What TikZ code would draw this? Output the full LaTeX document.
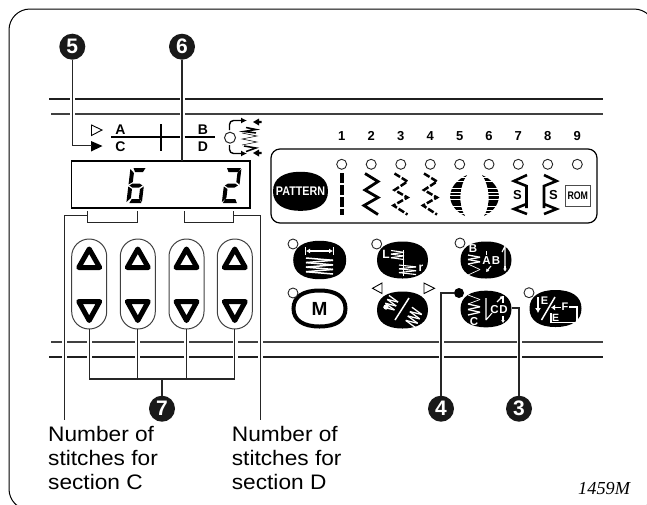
\documentclass[tikz,border=0pt]{standalone}
\usepackage{fontspec}
\setmainfont{Liberation Sans}
\newfontfamily\serifit{Liberation Serif}[ItalicFont=* Italic]
\newfontfamily\labfont{Liberation Sans}[FakeStretch=1.08]
\usetikzlibrary{arrows.meta,calc}
\newcommand{\fz}[1]{\fontsize{#1}{#1}\selectfont}
% superellipse blob: style, cx, cy, rx, ry
\newcommand{\blobpath}[5][]{\path[#1]
 ({#2-#4},{#3}) .. controls ({#2-#4},{#3-.66*#5}) and ({#2-.62*#4},{#3-#5}) .. ({#2},{#3-#5})
 .. controls ({#2+.62*#4},{#3-#5}) and ({#2+#4},{#3-.66*#5}) .. ({#2+#4},{#3})
 .. controls ({#2+#4},{#3+.66*#5}) and ({#2+.62*#4},{#3+#5}) .. ({#2},{#3+#5})
 .. controls ({#2-.62*#4},{#3+#5}) and ({#2-#4},{#3+.66*#5}) .. cycle;}
% zigzag: style, x0, x1, y0, y1, n
\newcommand{\zigzag}[6][]{\foreach \ii in {1,...,#6}{
 \pgfmathsetmacro{\xa}{mod(\ii,2)==1?#2:#3}
 \pgfmathsetmacro{\xb}{mod(\ii,2)==1?#3:#2}
 \pgfmathsetmacro{\ya}{#4+(\ii-1)*(#5-#4)/#6}
 \pgfmathsetmacro{\yb}{#4+\ii*(#5-#4)/#6}
 \draw[#1] (\xa,\ya) -- (\xb,\yb);}}
\tikzset{
 thickrule/.style={line width=2.6pt,draw=black!88},
 thinrule/.style={line width=1.3pt,draw=black!75},
 halo/.style={draw=white,line width=5pt},
 leader/.style={line width=1.1pt,draw=black!85},
 badge/.style={circle,fill=black!90,text=white,inner sep=0,minimum size=26pt,font=\fz{21}\bfseries},
 led/.style={circle,draw=black!85,fill=white,line width=.9pt,minimum size=10pt,inner sep=0},
 pill/.style={draw=black!75,line width=1pt,rounded corners=17.4pt},
 tri/.style={draw=black,fill=white,line width=5pt,line join=round},
 num/.style={font=\fz{13}\bfseries,inner sep=0},
 wtxt/.style={text=white,inner sep=0},
 wl/.style={draw=white,line width=1.1pt},
 sl/.style={draw=black,line width=3pt},
 lab/.style={anchor=base west,inner sep=0,font=\labfont\fz{21}},
}
\begin{document}
\begin{tikzpicture}[x=1pt,y=-1pt]
\useasboundingbox (0,0) rectangle (647,504);
\begin{scope}
\clip (0,0) rectangle (647,504);
\draw[line width=1pt,rounded corners=21pt] (9,9) rectangle (655,510);
\end{scope}
% rules
\draw[thickrule] (49,99) -- (603,99);
\draw[thinrule] (51,114) -- (603,114);
\draw[thinrule] (51,342) -- (603,342);
\draw[thickrule] (49,357) -- (603,357);
% halos in rules
\foreach \x in {72.3,182}{\draw[halo] (\x,94) -- (\x,119);}
\foreach \x in {64.7,89,137.8,186.5,235,260.3,441,519}{\draw[halo] (\x,337) -- (\x,362);}
% badges
\node[badge] (b5) at (72.3,46.7) {5};
\node[badge] (b6) at (182,46.7) {6};
\node[badge] (b7) at (162,408.7) {7};
\node[badge] (b4) at (441,408.7) {4};
\node[badge] (b3) at (519,408.7) {3};
% section scale
\draw[line width=.9pt] (91.5,125) -- (102,130) -- (91.5,135.5) -- cycle;
\path[fill=black] (91,141) -- (102.5,146) -- (91,151.5) -- cycle;
\coordinate (tip5) at (92,145.5);
\draw[leader] (b5.south) |- (tip5);
\draw[line width=2.6pt] (111,137) -- (179.5,137) (184.5,137) -- (215,137);
\draw[line width=2.2pt] (161,124) -- (161,151);
\node[inner sep=0,font=\fz{14}\bfseries] (lA) at (120.5,130) {A};
\node[inner sep=0,font=\fz{14}\bfseries] (lB) at (203,129.5) {B};
\node[inner sep=0,font=\fz{14}\bfseries] (lC) at (120.5,146.5) {C};
\node[inner sep=0,font=\fz{14}\bfseries] (lD) at (203,146.5) {D};
% stitch-width symbol
\node[led,minimum size=11pt,line width=1pt] (sw) at (230,137.7) {};
\draw[line width=1.4pt,-{Latex[length=6pt,width=6pt]},rounded corners=4pt] (229.5,130) -- (229.5,120.5) -- (247,120.5);
\draw[line width=1.4pt,-{Latex[length=6pt,width=6pt]},rounded corners=4pt] (229.5,145) -- (229.5,153.5) -- (247,153.5);
\draw[line width=.5pt] (242,133) -- (257,136) -- (242,139) -- (257,142) -- (242,145);
\draw[line width=1.5pt] (246,127.5) -- (256,129.5) -- (244,131.5) -- (256,133);
\draw[line width=1.5pt] (244,146) -- (256,148) -- (246,151.5);
\path[fill=black] (253,122) -- (259,118.5) -- (259,120.8) -- (261.5,120.8) -- (261.5,123.2) -- (259,123.2) -- (259,125.5) -- cycle;
\path[fill=black] (253,153) -- (259,149.5) -- (259,151.8) -- (261.5,151.8) -- (261.5,154.2) -- (259,154.2) -- (259,156.5) -- cycle;
% display
\draw[line width=1.5pt] (71.6,161) rectangle (250,208) coordinate (dispbr);
\coordinate (disptop) at (182,161);
\draw[leader] (b6.south) -- (disptop);
\begin{scope}[shift={(130.5,168)},xslant=.12]
 \path[fill=black] (3,0)--(15,0)--(13,4)--(5,4)--cycle;
 \path[fill=black] (0,1)--(4,5)--(4,14)--(0,16.5)--cycle;
 \path[fill=black] (1,17.5)--(4,15.5)--(11,15.5)--(14,17.5)--(11,19.5)--(4,19.5)--cycle;
 \path[fill=black] (0,18.5)--(4,21)--(4,30)--(0,34)--cycle;
 \path[fill=black] (3,35)--(15,35)--(13,31)--(5,31)--cycle;
 \path[fill=black] (15.5,18.5)--(15.5,34)--(12,30)--(12,21)--cycle;
\end{scope}
\begin{scope}[shift={(226,168)},xslant=.12]
 \path[fill=black] (1,0)--(15,0)--(13,4)--(3,4)--cycle;
 \path[fill=black] (15.5,1)--(15.5,16.5)--(12,14)--(12,5)--cycle;
 \path[fill=black] (1,17.5)--(4,15.5)--(11,15.5)--(14,17.5)--(11,19.5)--(4,19.5)--cycle;
 \path[fill=black] (0,18.5)--(4,21)--(4,30)--(0,34)--cycle;
 \path[fill=black] (1,35)--(15,35)--(13,31)--(3,31)--cycle;
\end{scope}
% brackets and side leaders
\draw[leader,line width=.9pt] (87.3,211) -- (87.3,222) -- (137.3,222) -- (137.3,211);
\draw[leader,line width=.9pt] (184,211) -- (184,222) -- (233.7,222) -- (233.7,211);
\coordinate (endC) at (64.7,420);
\coordinate (endD) at (260.3,420);
\coordinate (brC) at (87.3,215.7);
\coordinate (brD) at (233.7,215.7);
\draw[leader] (brC) -| (endC);
\draw[leader] (brD) -| (endD);
% up/down pills
\foreach \cx/\nm in {89.2/p1,137.8/p2,186.5/p3,234.8/p4}{
 \draw[pill] ({\cx-17.5},239) rectangle ({\cx+17.5},329);
 \draw[tri] ({\cx-10.5},267.5) -- ({\cx+10.5},267.5) -- (\cx,249) -- cycle;
 \draw[tri] ({\cx-10.5},301.5) -- ({\cx+10.5},301.5) -- (\cx,320.5) -- cycle;
 \coordinate (\nm) at (\cx,329);
}
\coordinate (bus1) at (89.2,379);
\coordinate (bus4) at (234.8,379);
\coordinate (bus7) at (162,379);
\draw[leader] (p1) -- (bus1) -- (bus4) -- (p4);
\draw[leader] (p2) -- (137.8,379);
\draw[leader] (p3) -- (186.5,379);
\draw[leader] (bus7) -- (b7.north);
% labels
\node[lab] (tC1) at (48,441.7) {Number of};
\node[lab] (tC2) at (48,465.5) {stitches for};
\node[lab] (tC3) at (48,489.5) {section C};
\node[lab] (tD1) at (231.7,441.7) {Number of};
\node[lab] (tD2) at (231.7,465.5) {stitches for};
\node[lab] (tD3) at (231.7,489.5) {section D};
\node[anchor=base west,inner sep=0,font=\fz{18.3}\serifit\itshape] (code) at (578,494) {1459M};
% panel
\draw[line width=1.2pt,rounded corners=9pt] (271,149) rectangle (597,223);
\foreach \n/\x in {1/341.7,2/371.2,3/400.8,4/430.3,5/459.7,6/489,7/518.3,8/547.7,9/577.3}{
 \node[num] (n\n) at (\x,136) {\n};
 \node[led] (l\n) at (\x,164.3) {};
}
\blobpath[fill=black]{300.5}{191.3}{27.5}{19.5}
\node[wtxt] (pat) at (300.5,191.5) {\fz{12.5}\bfseries\scalebox{.86}[1]{PATTERN}};
% stitch icons
\draw[line width=3.5pt,dash pattern=on 9.5pt off 2.5pt] (342,173) -- (342,214.5);
\draw[line width=2.8pt,line join=miter] (365,173.5) -- (378,181.5) -- (365,190) -- (378,197.5) -- (364,205.5) -- (378,214.5);
\foreach \dx in {29.5,59}{
 \draw[line width=2.5pt,dash pattern=on 6.5pt off 2pt,shift={(\dx,0)}] (365,173.5) -- (378,181.5) -- (365,190) -- (378,197.5) -- (364,205.5) -- (378,214.5);
}
\begin{scope}
 \clip (467,175) .. controls (447,184) and (443,205) .. (465,216) .. controls (458,205) and (459,186) .. (467,175) -- cycle;
 \foreach \y in {176,179.6,...,216}{\draw[line width=2.7pt] (440,\y) -- (475,\y);}
\end{scope}
\begin{scope}
 \clip (482,175) .. controls (502,184) and (506,205) .. (484,216) .. controls (491,205) and (490,186) .. (482,175) -- cycle;
 \foreach \y in {176,179.6,...,216}{\draw[line width=2.7pt] (475,\y) -- (510,\y);}
\end{scope}
% 7 and 8
\draw[sl,line width=2.6pt] (527,175) -- (514,181) -- (526.5,186) -- (526.5,208) (526.5,204) -- (514,209) -- (527,214);
\node[inner sep=0,font=\fz{13}\bfseries] (s7) at (517.5,195) {S};
\draw[sl,line width=2.6pt] (544,175) -- (556.5,181) -- (544,186) -- (544,208) (544,204) -- (556.5,209) -- (544,214);
\node[inner sep=0,font=\fz{13}\bfseries] (s8) at (553.5,195) {S};
\draw[line width=.9pt,draw=black!70] (565,185) rectangle (590.7,206);
\node[inner sep=0] (rom) at (577.8,196) {\fz{11}\bfseries\scalebox{.8}[1]{ROM}};
% button 1
\blobpath[fill=black]{319.7}{260}{26.5}{19.2}
\node[led] (lb1) at (293,244) {};
\draw[wl,{Latex[length=4pt,width=5pt]}-{Latex[length=4pt,width=5pt]}] (306,251) -- (333,251);
\draw[wl] (305.5,247) -- (305.5,255) (333.5,247) -- (333.5,255);
\zigzag[wl,line width=1.5pt]{306}{333}{258}{274}{7}
% M button
\blobpath[draw=black,line width=4pt,fill=white]{319.5}{308.5}{26}{18}
\node[led] (lb2) at (293,293) {};
\node[inner sep=0,font=\fz{19}\bfseries] (M) at (319.5,308.5) {M};
% button 2
\blobpath[fill=black]{402.5}{260}{25.5}{18.5}
\node[led] (lb3) at (376.7,244) {};
\node[wtxt,font=\fz{12}\bfseries] (L) at (386,254) {L};
\node[wtxt,font=\fz{12}\bfseries] (r) at (421,268) {r};
\zigzag[wl]{391}{404}{250.5}{259.5}{5}
\zigzag[wl]{399}{416}{265}{274.5}{5}
\draw[wl] (403.3,250) -- (403.3,276);
% button A/B arrows
\blobpath[fill=black]{402.5}{310}{25.5}{18.5}
\draw[line width=.9pt,fill=white] (382,283) -- (372.5,288.3) -- (382,293.5) -- cycle;
\draw[line width=.9pt,fill=white] (424,283) -- (434.5,288.3) -- (424,293.5) -- cycle;
\draw[draw=white,line width=1.5pt] (409,298) -- (395,320);
\begin{scope}[rotate around={-25:(391,303)}]
 \zigzag[wl,line width=1.3pt]{386}{397}{297}{310}{6}
\end{scope}
\path[fill=white] (386,307) circle (2.6);
\begin{scope}[rotate around={-25:(414,317)}]
 \zigzag[wl,line width=1.3pt]{408}{420}{309}{326}{7}
\end{scope}
% button 3
\blobpath[fill=black]{486}{260}{25.5}{18.5}
\node[led] (lb4) at (460,243) {};
\node[wtxt,font=\fz{11.5}\bfseries] (b3B) at (473,249) {B};
\zigzag[wl,line width=1.3pt]{468}{480}{255}{264}{4}
\zigzag[wl,line width=.7pt]{468}{480}{264}{275}{2}
\draw[wl] (486.5,251) -- (486.5,255);
\node[wtxt,font=\fz{11.5}\bfseries] (b3A) at (486.5,260.5) {A};
\draw[wl,-{Latex[length=3pt,width=4pt]}] (491,266) -- (486,272);
\node[wtxt,font=\fz{11.5}\bfseries] (b3C) at (496,261) {B};
\draw[wl] (502,252) -- (505,246) -- (505,268);
\draw[wl,-{Latex[length=3pt,width=4pt]}] (505,266) -- (505,271.5);
% button 4
\blobpath[fill=black]{486}{309}{25.5}{18.3}
\zigzag[wl,line width=.7pt]{468}{480}{295}{304}{2}
\zigzag[wl,line width=1.3pt]{468}{480}{304}{315}{4}
\node[wtxt,font=\fz{11.5}\bfseries] (b4C) at (474,322) {C};
\draw[wl] (486,298) -- (486,320) (486,320) -- (492,313);
\node[wtxt,font=\fz{11.5}\bfseries] (b4E) at (494.5,310) {C};
\node[wtxt,font=\fz{11.5}\bfseries] (b4D) at (503.5,310) {D};
\draw[wl,-{Latex[length=3pt,width=4pt]}] (503,316) -- (503,323);
\draw[wl,-{Latex[length=3pt,width=4pt]}] (497,302) -- (503,296);
\draw[wl] (503,296) -- (503,303);
\node[circle,fill=black,inner sep=0,minimum size=10pt] (dot4) at (459,293) {};
\draw[leader] (dot4) -| (b4.north);
\coordinate (n3) at (511.5,308);
\draw[leader] (n3) -| (b3.north);
% button 5
\blobpath[fill=black]{555.5}{308.5}{26}{18.5}
\node[led] (lb5) at (529,292.7) {};
\draw[draw=white,line width=1.6pt,-{Latex[length=5pt,width=6pt]}] (538,297) -- (538,313);
\node[wtxt,font=\fz{11}\bfseries] (e1) at (544.5,301) {E};
\draw[draw=white,line width=1.5pt] (555,297) -- (541.5,320);
\node[wtxt,font=\fz{11}\bfseries] (f5) at (565,306.5) {F};
\draw[draw=white,line width=1.6pt,-{Latex[length=4pt,width=6pt]}] (561,307.5) -- (551,307.5);
\draw[draw=white,line width=1.6pt] (569,307) -- (577,307) -- (577,322.5) -- (551,322.5) -- (551,313);
\node[wtxt,font=\fz{10.5}\bfseries] (e2) at (555.5,317.5) {E};
\end{tikzpicture}
\end{document}
